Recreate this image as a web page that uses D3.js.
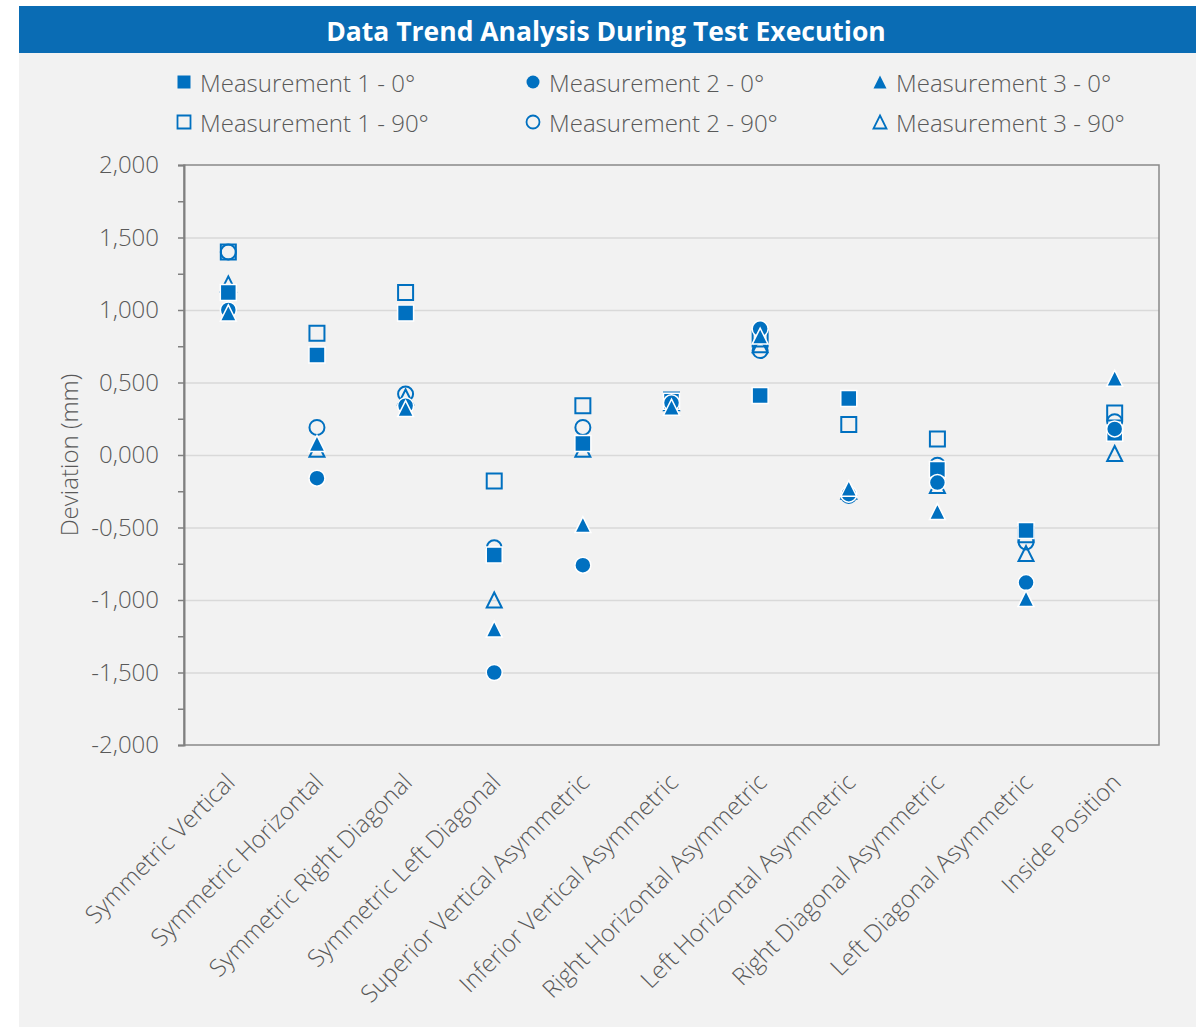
<!DOCTYPE html>
<html>
<head>
<meta charset="utf-8">
<script src="https://cdn.jsdelivr.net/npm/d3@7"></script>
<style>
  html, body { margin: 0; padding: 0; background: #ffffff; }
  svg { display: block; }
  text { font-family: "Open Sans", "Noto Sans", sans-serif; }
</style>
</head>
<body>
<svg id="chart" width="1204" height="1031"></svg>
<script>
// Test positions (x categories)
const categories = [
  "Symmetric Vertical",
  "Symmetric Horizontal",
  "Symmetric Right Diagonal",
  "Symmetric Left Diagonal",
  "Superior Vertical Asymmetric",
  "Inferior Vertical Asymmetric",
  "Right Horizontal Asymmetric",
  "Left Horizontal Asymmetric",
  "Right Diagonal Asymmetric",
  "Left Diagonal Asymmetric",
  "Inside Position"
];

// Deviation (mm) per measurement and orientation
const m1_0deg  = [1.12, 0.69, 0.98, -0.69, 0.08, 0.37, 0.41, 0.39, -0.10, -0.52, 0.15];
const m2_0deg  = [1.00, -0.16, 0.34, -1.50, -0.76, 0.36, 0.87, -0.27, -0.19, -0.88, 0.18];
const m3_0deg  = [0.98, 0.08, 0.32, -1.20, -0.48, 0.33, 0.82, -0.23, -0.39, -0.99, 0.53];
const m1_90deg = [1.40, 0.84, 1.12, -0.18, 0.34, 0.38, 0.80, 0.21, 0.11, -0.55, 0.29];
const m2_90deg = [1.40, 0.19, 0.42, -0.64, 0.19, 0.37, 0.72, -0.28, -0.07, -0.60, 0.23];
const m3_90deg = [1.18, 0.04, 0.40, -1.00, 0.04, 0.36, 0.76, -0.25, -0.21, -0.68, 0.01];

const seriesNames = [
  "Measurement 1 - 0°", "Measurement 2 - 0°", "Measurement 3 - 0°",
  "Measurement 1 - 90°", "Measurement 2 - 90°", "Measurement 3 - 90°"
];

// y-axis range and tick values
const yDomain = [-2, 2];
const yMinorStep = 0.25;
const yMajorStep = 0.5;

const title = "Data Trend Analysis During Test Execution";
const yTitle = "Deviation (mm)";

// ---------------------------------------------------------------
const blue = "#0070C0";
const textGray = "#595959";
const fontSize = 24;
const svg = d3.select("#chart");

// isosceles triangle marker (width == height)
const symbolIsoTriangle = {
  draw(context, size) {
    const s = Math.sqrt(size);
    const h = s / 2;
    context.moveTo(0, -h);
    context.lineTo(h, h);
    context.lineTo(-h, h);
    context.closePath();
  }
};

const series = [
  { name: seriesNames[0], values: m1_0deg,  type: d3.symbolSquare,  filled: true },
  { name: seriesNames[1], values: m2_0deg,  type: d3.symbolCircle,  filled: true },
  { name: seriesNames[2], values: m3_0deg,  type: symbolIsoTriangle, filled: true },
  { name: seriesNames[3], values: m1_90deg, type: d3.symbolSquare,  filled: false },
  { name: seriesNames[4], values: m2_90deg, type: d3.symbolCircle,  filled: false },
  { name: seriesNames[5], values: m3_90deg, type: symbolIsoTriangle, filled: false }
];

// marker area for each shape so they share the same visual width
function markerSize(type, px) {
  if (type === d3.symbolCircle) return Math.PI * (px / 2) * (px / 2);
  return px * px;
}

// panel background
svg.append("rect")
  .attr("x", 19).attr("y", 6)
  .attr("width", 1177).attr("height", 1021)
  .attr("fill", "#F2F2F2");

// title bar
svg.append("rect")
  .attr("x", 19).attr("y", 6)
  .attr("width", 1177).attr("height", 47)
  .attr("fill", "#0A6CB4");
svg.append("text")
  .attr("x", 606).attr("y", 31)
  .attr("text-anchor", "middle")
  .attr("dominant-baseline", "central")
  .attr("fill", "#ffffff")
  .attr("font-size", 26.5)
  .attr("font-weight", 700)
  .text(title);

// plot geometry
const plot = { left: 184, top: 165, right: 1159, bottom: 745 };
const x = d3.scaleBand()
  .domain(categories)
  .range([plot.left, plot.right]);
const y = d3.scaleLinear()
  .domain(yDomain)
  .range([plot.bottom, plot.top]);

const locale = d3.formatLocale({
  decimal: ",", thousands: ".", grouping: [3], currency: ["", ""], minus: "-"
});
const fmt = locale.format(".3f");

const minorTicks = d3.range(yDomain[0], yDomain[1] + 1e-9, yMinorStep);
const majorTicks = d3.range(yDomain[0], yDomain[1] + 1e-9, yMajorStep);

// gridlines
svg.append("g")
  .attr("transform", `translate(${plot.left},0)`)
  .call(d3.axisLeft(y)
    .tickValues(majorTicks.filter(v => v > yDomain[0] && v < yDomain[1]))
    .tickSize(-(plot.right - plot.left))
    .tickFormat(""))
  .call(g => g.select(".domain").remove())
  .call(g => g.selectAll(".tick line").attr("stroke", "#D9D9D9").attr("stroke-width", 1.5));

// plot border
svg.append("rect")
  .attr("x", plot.left).attr("y", plot.top)
  .attr("width", plot.right - plot.left)
  .attr("height", plot.bottom - plot.top)
  .attr("fill", "none")
  .attr("stroke", "#898989")
  .attr("stroke-width", 1.5);

// y axis
const yAxis = svg.append("g")
  .attr("transform", `translate(${plot.left},0)`)
  .call(d3.axisLeft(y)
    .tickValues(minorTicks)
    .tickSize(6)
    .tickPadding(19)
    .tickFormat(d => majorTicks.some(m => Math.abs(m - d) < 1e-9) ? fmt(d) : ""));
yAxis.select(".domain").attr("stroke", "#808080").attr("stroke-width", 2);
yAxis.selectAll(".tick line").attr("stroke", "#808080").attr("stroke-width", 1.5);
yAxis.selectAll(".tick text")
  .attr("fill", textGray)
  .attr("font-size", fontSize)
  .attr("font-weight", 300)
  .style("font-family", '"Open Sans", sans-serif');

// y axis title
svg.append("text")
  .attr("transform", `translate(68,${(plot.top + plot.bottom) / 2}) rotate(-90)`)
  .attr("text-anchor", "middle")
  .attr("dominant-baseline", "central")
  .attr("fill", textGray)
  .attr("font-size", fontSize)
  .attr("font-weight", 300)
  .text(yTitle);

// x category labels (rotated)
svg.append("g")
  .selectAll("text")
  .data(categories)
  .join("text")
  .attr("transform", d => `translate(${x(d) + x.bandwidth() / 2 + 2},${plot.bottom + 33}) rotate(-45)`)
  .attr("text-anchor", "end")
  .attr("dy", "0.35em")
  .attr("fill", textGray)
  .attr("font-size", fontSize)
  .attr("font-weight", 300)
  .text(d => d);

// markers: open series first, filled series on top
const drawOrder = [3, 4, 5, 0, 1, 2];
const markerG = svg.append("g");
drawOrder.forEach(i => {
  const s = series[i];
  const sym = d3.symbol().type(s.type).size(markerSize(s.type, s.filled ? 16 : 15));
  markerG.append("g")
    .selectAll("path")
    .data(s.values.map((v, k) => ({ cat: categories[k], v })))
    .join("path")
    .attr("transform", d => `translate(${x(d.cat) + x.bandwidth() / 2},${y(d.v)})`)
    .attr("d", sym())
    .attr("fill", s.filled ? blue : "none")
    .attr("stroke", s.filled ? "#ffffff" : blue)
    .attr("stroke-width", s.filled ? 1.5 : 2);
});

// legend
const legendCols = [184, 533, 880];
const legendRows = [82, 122];
const legend = svg.append("g");
series.forEach((s, i) => {
  const cx = legendCols[i % 3];
  const cy = legendRows[Math.floor(i / 3)];
  const sym = d3.symbol().type(s.type).size(markerSize(s.type, 13));
  legend.append("path")
    .attr("transform", `translate(${cx},${cy})`)
    .attr("d", sym())
    .attr("fill", s.filled ? blue : "none")
    .attr("stroke", s.filled ? "none" : blue)
    .attr("stroke-width", 1.8);
  legend.append("text")
    .attr("x", cx + 16).attr("y", cy)
    .attr("dominant-baseline", "central")
    .attr("fill", textGray)
    .attr("font-size", fontSize)
    .attr("font-weight", 300)
    .text(s.name);
});
</script>
</body>
</html>
